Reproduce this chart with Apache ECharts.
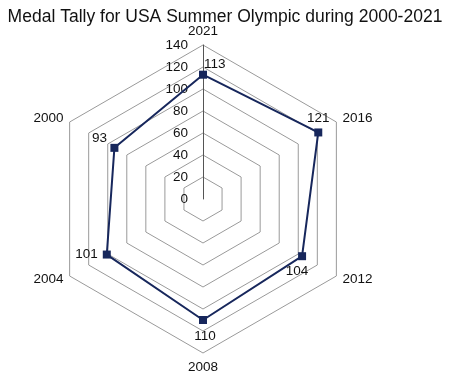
<!DOCTYPE html>
<html>
<head>
<meta charset="utf-8">
<script src="https://cdn.jsdelivr.net/npm/echarts@6/dist/echarts.min.js"></script>
<style>
  html, body { margin: 0; padding: 0; background: #fff; }
  #main { width: 450px; height: 378px; }
</style>
</head>
<body>
<div id="main"></div>
<script>
// Olympic years and USA medal counts
var years = ['2000', '2004', '2008', '2012', '2016', '2021'];
var medals = [93, 101, 110, 104, 121, 113];
var axisMax = 140;
var axisStep = 20;

// label placement for each year's value label
var labelPos = {
  '2000': { position: 'top', offset: [-15, 2] },
  '2004': { position: 'left', offset: [-4, 0] },
  '2008': { position: 'bottom', offset: [2, 4] },
  '2012': { position: 'bottom', offset: [-5, 3] },
  '2016': { position: 'top', offset: [0, -2] },
  '2021': { position: 'right', offset: [-4, -10] }
};

// radar goes counter-clockwise from the top, so put 2021 first then the rest
var order = [years.length - 1];
for (var i = 0; i < years.length - 1; i++) order.push(i);

var indicators = order.map(function (idx, k) {
  var ind = { name: years[idx], max: axisMax, min: 0 };
  if (k === 0) {
    ind.axisLabel = { show: true };
    ind.axisLine = { show: true };
  }
  return ind;
});
var values = order.map(function (idx) { return medals[idx]; });

var font = '"Liberation Sans", Arial, sans-serif';
var navy = '#17275c';

var series = [{
  type: 'radar',
  symbol: 'rect',
  symbolSize: 8,
  lineStyle: { color: navy, width: 2 },
  itemStyle: { color: navy },
  label: { show: false },
  data: [{ value: values }]
}];

// one invisible series per point, just to carry its label
order.forEach(function (idx, k) {
  var p = labelPos[years[idx]];
  series.push({
    type: 'radar',
    symbol: 'circle',
    symbolSize: 2,
    silent: true,
    lineStyle: { opacity: 0 },
    itemStyle: { color: 'rgba(0,0,0,0)' },
    label: {
      show: true,
      position: p.position,
      offset: p.offset,
      distance: 4,
      color: '#111',
      fontSize: 13.5,
      fontFamily: font,
      formatter: function (prm) {
        var hit = prm.dimensionIndex != null ? prm.dimensionIndex === k : prm.value === values[k];
        return hit ? String(prm.value) : '';
      }
    },
    data: [{ value: values }]
  });
});

var myChart = echarts.init(document.getElementById('main'));
var option = {
  animation: false,
  title: {
    text: 'Medal Tally for USA Summer Olympic during 2000-2021',
    left: 'center',
    top: 3,
    textStyle: { fontFamily: font, fontSize: 17.5, fontWeight: 'normal', color: '#111' }
  },
  radar: {
    center: [203, 199],
    radius: 154,
    startAngle: 90,
    shape: 'polygon',
    splitNumber: axisMax / axisStep,
    indicator: indicators,
    axisName: { color: '#111', fontSize: 13.5, fontFamily: font },
    nameGap: 7,
    axisLine: { show: false, lineStyle: { color: '#555', width: 1 } },
    axisTick: { show: false },
    axisLabel: { show: false, color: '#111', fontSize: 13.5, fontFamily: font, margin: 15 },
    splitLine: { lineStyle: { color: '#9a9a9a', width: 1 } },
    splitArea: { show: false }
  },
  series: series
};

option && myChart.setOption(option);
</script>
</body>
</html>
